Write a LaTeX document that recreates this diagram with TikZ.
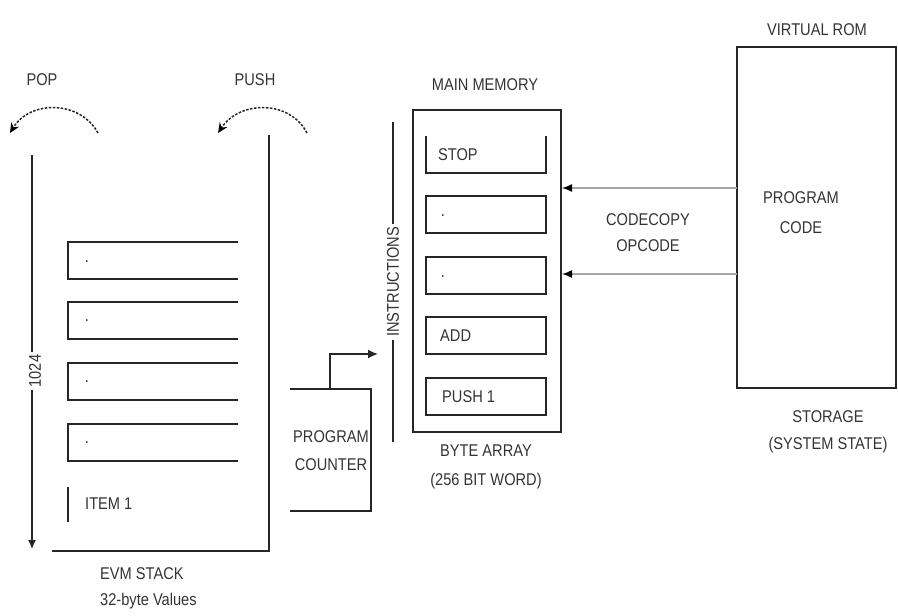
\documentclass[tikz,border=0pt]{standalone}
\usepackage{fontspec}
\setmainfont{Liberation Sans}[FakeStretch=0.86]
\usetikzlibrary{arrows.meta}
\definecolor{txt}{rgb}{0.2,0.2,0.2}
\definecolor{ln}{rgb}{0.15,0.15,0.15}
\begin{document}
\begin{tikzpicture}[x=1pt,y=-1pt,
  lbl/.style={inner sep=1pt,text=txt,font=\fontsize{17}{28}\selectfont,align=center},
  lblw/.style={lbl,anchor=west},
  boxline/.style={draw=ln,line width=1.8pt},
  thinline/.style={draw=ln,line width=1.3pt},
  greyarrow/.style={draw=gray!70,line width=1.4pt,-{Latex[length=10pt,width=8pt,black]}},
  arcarrow/.style={draw=ln,line width=1.5pt,dash pattern=on 2.5pt off 1.5pt,-{Stealth[length=10pt,width=9pt,black]}}
]
\useasboundingbox (0,0) rectangle (898,616);

% ---------- EVM stack ----------
\coordinate (stTR) at (269,135);
\coordinate (stBR) at (269,551);
\coordinate (stBL) at (52,551);
\draw[thinline,line width=1.6pt] (stTR) -- (stBR) -- (stBL);

\coordinate (dimTop) at (32,155);
\coordinate (dimBot) at (32,549);
\draw[thinline,-{Latex[length=9pt,width=8pt]}] (dimTop) -- (dimBot);
\node[lbl,rotate=90,fill=white,inner sep=3pt] (n1024) at (35,371) {1024};

\foreach \t/\b in {242/279,302/339,363/400,424/461}{
  \draw[boxline] (238,\t) -- (68,\t) -- (68,\b) -- (238,\b);
}
\node[lbl] (d1) at (87,262) {.};
\node[lbl] (d2) at (87,321) {.};
\node[lbl] (d3) at (87,382) {.};
\node[lbl] (d4) at (87,443) {.};
\draw[boxline] (68,487) -- (68,522);
\node[lblw] (item1) at (84,504) {ITEM 1};

\node[lbl,align=left,anchor=north west,font=\fontsize{17}{26}\selectfont] (evm) at (99,566) {EVM STACK\\32-byte Values};

% POP / PUSH
\node[lbl] (pop) at (42,80) {POP};
\node[lbl] (push) at (255,80) {PUSH};
\coordinate (popS) at (98,133);
\coordinate (popE) at (10,133);
\draw[arcarrow] (popS) .. controls (80,100) and (30,100) .. (popE);
\coordinate (pushS) at (307,133);
\coordinate (pushE) at (218,133);
\draw[arcarrow] (pushS) .. controls (290,100) and (240,100) .. (pushE);

% ---------- Program counter ----------
\coordinate (pcTL) at (290,389);
\coordinate (pcTR) at (371,389);
\coordinate (pcBR) at (371,511);
\coordinate (pcBL) at (290,511);
\draw[thinline] (pcTL) -- (pcTR) -- (pcBR) -- (pcBL);
\node[lbl,font=\fontsize{17}{28}\selectfont] (pc) at (331,451) {PROGRAM\\COUNTER};
\coordinate (pcOut) at (330,389);
\coordinate (pcTip) at (378,354);
\draw[thinline,line width=1.6pt,-{Latex[length=10pt,width=9pt]}] (pcOut) |- (pcTip);

% ---------- Instructions ----------
\coordinate (inTop) at (393,122);
\coordinate (inBot) at (393,442);
\draw[thinline] (inTop) -- (inBot);
\node[lbl,rotate=90,fill=white,inner sep=3pt] (instr) at (393,282) {INSTRUCTIONS};

% ---------- Main memory ----------
\node[lbl] (mm) at (485,85) {MAIN MEMORY};
\draw[thinline,line width=1.6pt] (413,110) rectangle (561,432);
\draw[boxline] (426,136) -- (426,173) -- (546,173) -- (546,136);
\node[lblw] (stop) at (437,155) {STOP};
\draw[boxline] (426,196) rectangle (546,233);
\node[lbl] (m1) at (443,216) {.};
\draw[boxline] (426,257) rectangle (546,294);
\node[lbl] (m2) at (443,277) {.};
\draw[boxline] (426,317) rectangle (546,354);
\node[lblw] (add) at (439,336) {ADD};
\draw[boxline] (426,378) rectangle (546,415);
\node[lblw] (push1) at (441,397) {PUSH 1};
\node[lbl,font=\fontsize{17}{29}\selectfont] (bytearr) at (486,467) {BYTE ARRAY\\(256 BIT WORD)};

% ---------- Virtual ROM ----------
\node[lbl] (vrom) at (817,30) {VIRTUAL ROM};
\draw[thinline,line width=1.6pt] (737,47) rectangle (896,388);
\node[lbl,font=\fontsize{17}{30}\selectfont] (pcode) at (801,213) {PROGRAM\\CODE};
\node[lbl,font=\fontsize{17}{27}\selectfont] (storage) at (828,432) {STORAGE\\(SYSTEM STATE)};

\coordinate (r1) at (737,188);
\coordinate (t1) at (562,188);
\coordinate (r2) at (737,274);
\coordinate (t2) at (562,274);
\draw[greyarrow] (r1) -- (t1);
\draw[greyarrow] (r2) -- (t2);
\node[lbl,font=\fontsize{17}{26}\selectfont] (codecopy) at (648,233) {CODECOPY\\OPCODE};
\end{tikzpicture}
\end{document}
